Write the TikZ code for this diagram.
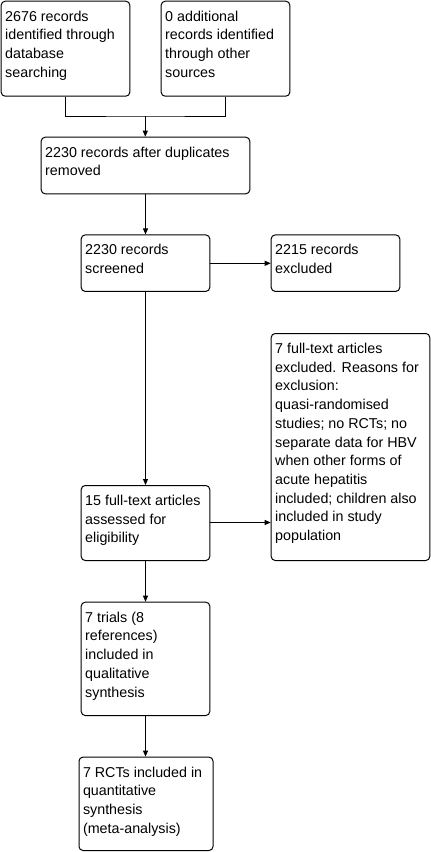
\documentclass[tikz,border=0pt]{standalone}
\usepackage{fontspec}
\setmainfont{Liberation Sans}
\usetikzlibrary{arrows.meta}
\newcommand\bxtext[3]{\parbox[c][#2pt][t]{#1pt}{\fontsize{14.3}{18.7}\selectfont\parindent0pt\leftskip4pt\rightskip0pt plus 1fil\rule{0pt}{20pt}#3\par}}
\tikzset{
  flowbox/.style={draw, rounded corners=4pt, line width=1pt, inner sep=0pt, anchor=north west},
  conn/.style={line width=1pt},
  arr/.style={line width=1pt, -{Triangle[length=6pt,width=5pt]}}
}
\begin{document}
\begin{tikzpicture}[x=1pt,y=-1pt]
\useasboundingbox (0,0) rectangle (431,852);
\node[flowbox] (b1) at (0.7,0.7) {\bxtext{128.6}{95}{2676 records\\identified through\\database\\searching}};
\node[flowbox] (b2) at (160.7,0.7) {\bxtext{128.6}{95}{0 additional\\records identified\\through other\\sources}};
\node[flowbox] (b3) at (40.7,136.7) {\bxtext{208.6}{56.6}{2230 records after duplicates\\removed}};
\node[flowbox] (b4) at (80.7,234.4) {\bxtext{128.6}{56.5}{2230 records\\screened}};
\node[flowbox] (b5) at (270.7,234.4) {\bxtext{128.6}{56.5}{2215 records\\excluded}};
\node[flowbox] (b6) at (270.7,333) {\bxtext{158.6}{227}{7 full-text articles\\excluded. Reasons for\\exclusion:\\quasi-randomised\\studies; no RCTs; no\\separate data for HBV\\when other forms of\\acute hepatitis\\included; children also\\included in study\\population}};
\node[flowbox] (b7) at (80.7,485) {\bxtext{128.6}{75}{15 full-text articles\\assessed for\\eligibility}};
\node[flowbox] (b8) at (80.7,601.7) {\bxtext{128.6}{113.3}{7 trials (8\\references)\\included in\\qualitative\\synthesis}};
\node[flowbox] (b9) at (78.5,756.6) {\bxtext{134}{93.4}{7 RCTs included in\\quantitative\\synthesis\\(meta-analysis)}};
\coordinate (m) at (145.3,116);
\draw[conn] (b1.south) |- (m) -| (b2.south);
\draw[arr] (m) -- (b3.north -| m);
\draw[arr] (b3.south -| b4.north) -- (b4.north);
\draw[arr] (b4.east |- 0,263.3) -- (b5.west |- 0,263.3);
\draw[arr] (b4.south) -- (b7.north);
\draw[arr] (b7.east |- 0,522.5) -- (b6.west |- 0,522.5);
\draw[arr] (b7.south) -- (b8.north);
\draw[arr] (b8.south) -- (b9.north -| b8.south);
\end{tikzpicture}
\end{document}
